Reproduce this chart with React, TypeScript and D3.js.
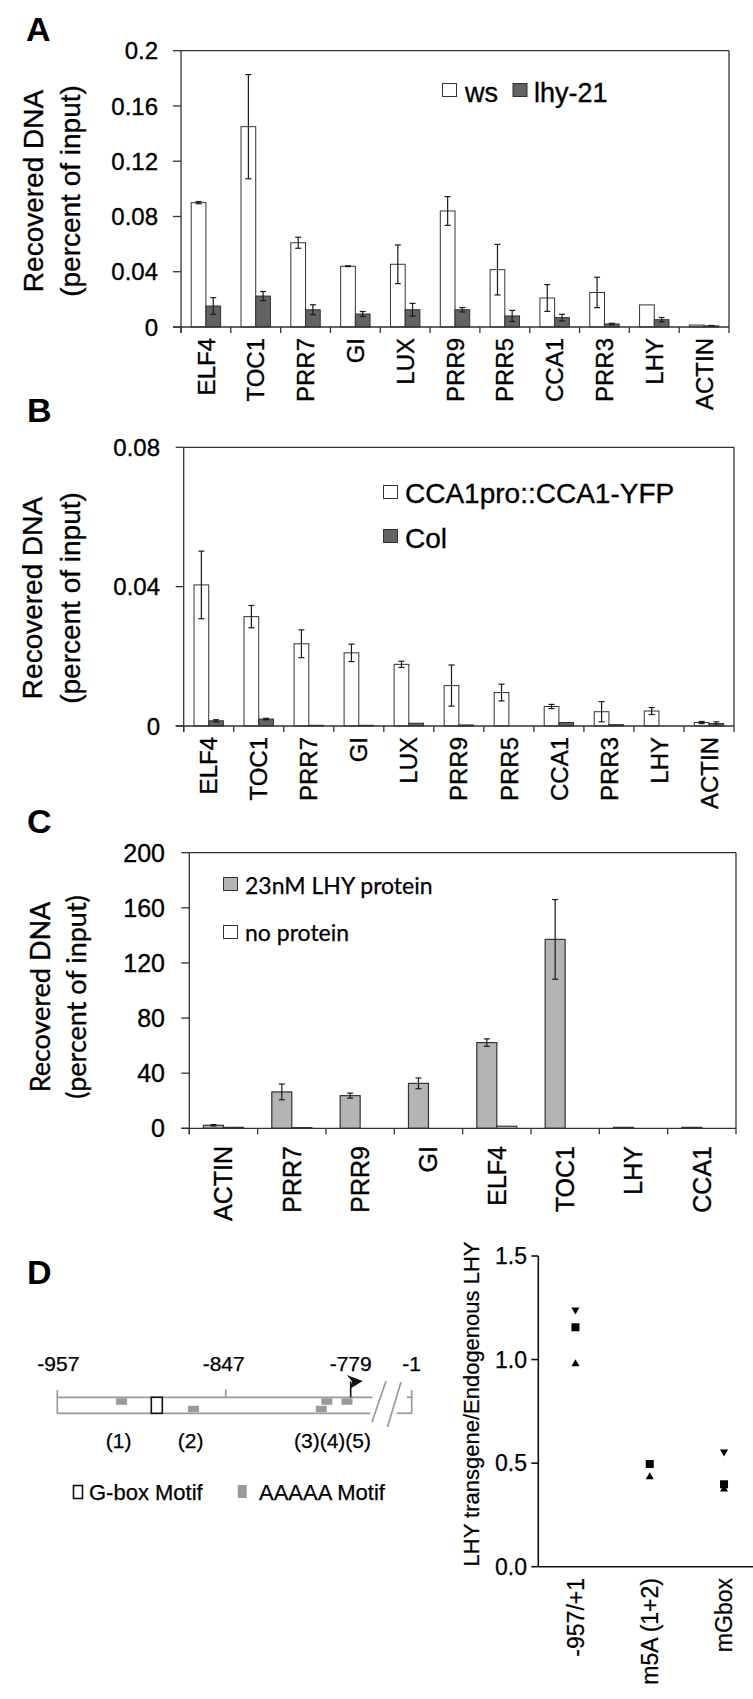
import React from "react";
import * as d3 from "d3";

const ARIAL = '"Liberation Sans", Arial, Helvetica, sans-serif';
const CAL = 'Lato, "Open Sans", sans-serif';
const TXT = "#000";
const TS = 0.35; // slight stroke to match heavier reference text

// ---------- Panel A data ----------
const catsA = ["ELF4", "TOC1", "PRR7", "GI", "LUX", "PRR9", "PRR5", "CCA1", "PRR3", "LHY", "ACTIN"];
const wsVals = [0.09, 0.145, 0.061, 0.044, 0.0454, 0.084, 0.0415, 0.021, 0.025, 0.016, 0.0014];
const wsErr = [0.0008, 0.0377, 0.004, 0.0003, 0.014, 0.0104, 0.0183, 0.0097, 0.011, 0, 0];
const lhyVals = [0.0152, 0.0224, 0.0125, 0.0094, 0.0125, 0.0125, 0.008, 0.0068, 0.0022, 0.0053, 0.0008];
const lhyErr = [0.006, 0.0033, 0.0036, 0.0018, 0.0046, 0.0016, 0.004, 0.0024, 0.0005, 0.0016, 0.0003];
const ticksA = [0, 0.04, 0.08, 0.12, 0.16, 0.2];
const tickLabelsA = ["0", "0.04", "0.08", "0.12", "0.16", "0.2"];

// ---------- Panel B data ----------
const catsB = ["ELF4", "TOC1", "PRR7", "GI", "LUX", "PRR9", "PRR5", "CCA1", "PRR3", "LHY", "ACTIN"];
const ccaVals = [0.0405, 0.0314, 0.0236, 0.021, 0.0177, 0.0116, 0.0096, 0.0056, 0.0041, 0.0043, 0.001];
const ccaErr = [0.0097, 0.0032, 0.004, 0.0025, 0.0009, 0.0059, 0.0024, 0.0006, 0.0029, 0.001, 0.0003];
const colVals = [0.0015, 0.002, 0.0002, 0.0002, 0.0008, 0.0003, 0, 0.001, 0.0004, 0, 0.0007];
const colErr = [0.0003, 0.0002, 0, 0, 0, 0, 0, 0, 0, 0, 0.0005];
const ticksB = [0, 0.04, 0.08];
const tickLabelsB = ["0", "0.04", "0.08"];

// ---------- Panel C data ----------
const catsC = ["ACTIN", "PRR7", "PRR9", "GI", "ELF4", "TOC1", "LHY", "CCA1"];
const protVals = [2.2, 26.4, 23.7, 32.6, 62.2, 137.1, 0.7, 0.7];
const protErr = [0.5, 5.7, 1.8, 3.9, 2.7, 28.9, 0, 0];
const noProtVals = [0.7, 0.5, 0, 0, 1.5, 0, 0, 0];
const noProtErr = [0, 0, 0, 0, 0, 0, 0, 0];
const ticksC = [0, 40, 80, 120, 160, 200];
const tickLabelsC = ["0", "40", "80", "120", "160", "200"];

// ---------- Panel D data ----------
const promoterMarks = [-957, -847, -779, -1];
const promoterLabels = ["-957", "-847", "-779", "-1"];
const aMotifPos = [-915, -868, -795, -792, -781];
const aMotifStrand = ["top", "bottom", "bottom", "top", "top"];
const aMotifNames = ["(1)", "(2)", "(3)(4)(5)"];
const aMotifNamePos = [-915, -868, -790];
const gboxPos = [-892];
const dCats = ["-957/+1", "m5A (1+2)", "mGbox"];
const dDown = [1.24, null, 0.555];
const dSquare = [1.156, 0.496, 0.398];
const dUp = [0.979, 0.433, 0.374];
const ticksD = [0, 0.5, 1.0, 1.5];
const tickLabelsD = ["0.0", "0.5", "1.0", "1.5"];

type Series = { values: number[]; errors: number[]; fill: string };

function BarPanel(p: {
  cats: string[];
  series: Series[];
  x0: number; x1: number; yTop: number; y0: number;
  max: number; ticks: number[]; tickLabels: string[];
  tickFont: number; tickLabelX: number; tickLen: number;
  catLabelY: number; catFont: number; barW: number;
  stroke: string; barStroke: number;
}) {
  const x = d3.scaleBand().domain(p.cats).range([p.x0, p.x1]).padding(0);
  const y = d3.scaleLinear().domain([0, p.max]).range([p.y0, p.yTop]);
  const ns = p.series.length;
  const axisC = "#333";
  const catTick = 6;
  return (
    <g>
      <line x1={p.x0} x2={p.x1} y1={p.yTop} y2={p.yTop} stroke={axisC} strokeWidth={1.3} />
      <line x1={p.x1} x2={p.x1} y1={p.yTop} y2={p.y0 + catTick} stroke={axisC} strokeWidth={1.3} />
      {p.cats.map((c, ci) => {
        const cx = (x(c) as number) + x.bandwidth() / 2;
        return p.series.map((s, si) => {
          const v = s.values[ci];
          if (!(v > 0)) return null;
          const bx = cx - (ns * p.barW) / 2 + si * p.barW;
          return (
            <rect key={c + si} x={bx} y={y(v)} width={p.barW} height={p.y0 - y(v)}
              fill={s.fill} stroke={p.stroke} strokeWidth={p.barStroke} />
          );
        });
      })}
      {p.cats.map((c, ci) => {
        const cx = (x(c) as number) + x.bandwidth() / 2;
        return p.series.map((s, si) => {
          const v = s.values[ci];
          const e = s.errors[ci];
          if (!(e > 0)) return null;
          const ex = cx - (ns * p.barW) / 2 + si * p.barW + p.barW / 2;
          const ya = y(v + e), yb = y(Math.max(0, v - e));
          return (
            <g key={"e" + c + si} stroke="#1a1a1a" strokeWidth={1.2}>
              <line x1={ex} x2={ex} y1={ya} y2={yb} />
              <line x1={ex - 3} x2={ex + 3} y1={ya} y2={ya} />
              <line x1={ex - 3} x2={ex + 3} y1={yb} y2={yb} />
            </g>
          );
        });
      })}
      <line x1={p.x0} x2={p.x0} y1={p.yTop} y2={p.y0 + catTick} stroke={axisC} strokeWidth={1.3} />
      <line x1={p.x0 - p.tickLen} x2={p.x1} y1={p.y0} y2={p.y0} stroke={axisC} strokeWidth={1.3} />
      {p.ticks.map((t, i) => (
        <g key={"t" + i}>
          <line x1={p.x0 - p.tickLen} x2={p.x0} y1={y(t)} y2={y(t)} stroke={axisC} strokeWidth={1.3} />
          <text x={p.tickLabelX} y={y(t)} dy="0.36em" textAnchor="end" fontSize={p.tickFont}
            fontFamily={ARIAL} fill={TXT} stroke={TXT} strokeWidth={TS}>{p.tickLabels[i]}</text>
        </g>
      ))}
      {p.cats.map((c) => (
        <line key={"ct" + c} x1={x(c) as number} x2={x(c) as number} y1={p.y0} y2={p.y0 + catTick}
          stroke={axisC} strokeWidth={1.3} />
      ))}
      {p.cats.map((c) => {
        const cx = (x(c) as number) + x.bandwidth() / 2;
        return (
          <text key={"cl" + c} transform={`translate(${cx},${p.catLabelY}) rotate(-90)`}
            dy="0.36em" textAnchor="end" fontSize={p.catFont} fontFamily={ARIAL}
            fill={TXT} stroke={TXT} strokeWidth={TS}>{c}</text>
        );
      })}
    </g>
  );
}

function YTitle(p: { x1: number; x2: number; cy: number; size: number; family: string }) {
  return (
    <g fontSize={p.size} fontFamily={p.family} fill={TXT} stroke={TXT} strokeWidth={TS} textAnchor="middle">
      <text transform={`translate(${p.x1},${p.cy}) rotate(-90)`}>Recovered DNA</text>
      <text transform={`translate(${p.x2},${p.cy}) rotate(-90)`}>(percent of input)</text>
    </g>
  );
}

function PanelLetter(p: { x: number; y: number; t: string }) {
  return (
    <text x={p.x} y={p.y} fontSize={34} fontWeight="bold" fontFamily={ARIAL} fill="#000">{p.t}</text>
  );
}

function PromoterDiagram() {
  const px = d3.scaleLinear().domain([-957, -847, -779, -1]).range([57.3, 225.7, 350.7, 411.7]);
  const topY = 1397.3, botY = 1413.3;
  const lineEnd = 372.5;
  const gray = "#9a9a9a";
  const mw = 11, mh = 6.5;
  return (
    <g>
      {promoterMarks.map((m, i) => (
        <text key={"pm" + i} x={px(m) + (i === 1 ? -2 : i === 0 ? 1 : 0)} y={1371} textAnchor="middle"
          fontSize={21} fontFamily={ARIAL} fill={TXT} stroke={TXT} strokeWidth={0.25}>{promoterLabels[i]}</text>
      ))}
      <g stroke={gray} strokeWidth={1.7} fill="none">
        <line x1={px(-957)} x2={lineEnd} y1={topY} y2={topY} />
        <line x1={px(-957)} x2={lineEnd - 2} y1={botY} y2={botY} />
        <line x1={px(-957)} x2={px(-957)} y1={1390} y2={botY} />
        <line x1={px(-847)} x2={px(-847)} y1={1389.3} y2={topY} />
        <line x1={372} y1={1422} x2={386} y2={1381} />
        <line x1={387.5} y1={1427} x2={401} y2={1382} />
        <line x1={px(-1)} x2={px(-1)} y1={1390} y2={botY} />
        <line x1={px(-1) - 5} x2={px(-1)} y1={topY} y2={topY} />
        <line x1={px(-1) - 15} x2={px(-1)} y1={botY} y2={botY} />
      </g>
      {aMotifPos.map((m, i) => (
        <rect key={"am" + i} x={px(m) - mw / 2}
          y={aMotifStrand[i] === "top" ? topY + 1 : botY - 1 - mh}
          width={mw} height={mh} fill={gray} />
      ))}
      {gboxPos.map((g, i) => (
        <rect key={"gb" + i} x={px(g) - 5.5} y={topY} width={11} height={botY - topY}
          fill="#fff" stroke="#111" strokeWidth={1.6} />
      ))}
      <line x1={px(-779)} x2={px(-779)} y1={topY} y2={1381.5} stroke="#111" strokeWidth={1.6} />
      <path d={`M${px(-779) - 4},${1375} L${px(-779) + 12},${1381} L${px(-779) - 1},${1389} L${px(-779) + 1.5},${1381.5} Z`}
        fill="#111" />
      {aMotifNames.map((n, i) => (
        <text key={"an" + i} x={px(aMotifNamePos[i]) + (i === 2 ? 2 : -3)} y={1448} textAnchor="middle"
          fontSize={21} fontFamily={ARIAL} fill={TXT} stroke={TXT} strokeWidth={0.25}>{n}</text>
      ))}
      <rect x={73.5} y={1485.5} width={9} height={13} fill="#fff" stroke="#111" strokeWidth={1.6} />
      <text x={89} y={1500} fontSize={22} fontFamily={ARIAL} fill={TXT} stroke={TXT} strokeWidth={0.25}>G-box Motif</text>
      <rect x={237.7} y={1485} width={9} height={13} fill={gray} />
      <text x={259} y={1500} fontSize={22} fontFamily={ARIAL} fill={TXT} stroke={TXT} strokeWidth={0.25}>AAAAA Motif</text>
    </g>
  );
}

function ScatterD() {
  const x0 = 538.3, yTop = 1256, y0 = 1566.7;
  const x = d3.scalePoint().domain(dCats).range([x0, x0 + 3 * 74.3]).padding(0.5);
  const y = d3.scaleLinear().domain([0, 1.5]).range([y0, yTop]);
  const tri = d3.symbol(d3.symbolTriangle, 28)() as string;
  const sq = d3.symbol(d3.symbolSquare, 64)() as string;
  return (
    <g>
      <line x1={x0} x2={x0} y1={yTop} y2={y0} stroke="#111" strokeWidth={1.6} />
      <line x1={x0} x2={753} y1={y0} y2={y0} stroke="#111" strokeWidth={1.6} />
      {ticksD.map((t, i) => (
        <g key={"dt" + i}>
          <line x1={x0 - 7} x2={x0} y1={y(t)} y2={y(t)} stroke="#111" strokeWidth={1.6} />
          <text x={527} y={y(t)} dy="0.36em" textAnchor="end" fontSize={23} fontFamily={ARIAL}
            fill={TXT} stroke={TXT} strokeWidth={0.25}>{tickLabelsD[i]}</text>
        </g>
      ))}
      <text transform={`translate(479,1404) rotate(-90)`} textAnchor="middle" fontSize={22}
        fontFamily={ARIAL} fill={TXT} stroke={TXT} strokeWidth={0.25}>LHY transgene/Endogenous LHY</text>
      {dCats.map((c, i) => (
        <g key={"dc" + i}>
          {dDown[i] != null && (
            <path d={tri} transform={`translate(${x(c)},${y(dDown[i] as number)}) rotate(180)`} fill="#000" />
          )}
          <path d={sq} transform={`translate(${x(c)},${y(dSquare[i])})`} fill="#000" />
          <path d={tri} transform={`translate(${x(c)},${y(dUp[i])})`} fill="#000" />
          <text transform={`translate(${x(c)},1578) rotate(-90)`} dy="0.36em" textAnchor="end"
            fontSize={23} fontFamily={ARIAL} fill={TXT} stroke={TXT} strokeWidth={0.25}>{c}</text>
        </g>
      ))}
    </g>
  );
}

export default function App() {
  return (
    <svg width={753} height={1699} viewBox="0 0 753 1699"
      style={{ position: "absolute", left: 0, top: 0, background: "#fff" }}>
      <rect x={0} y={0} width={753} height={1699} fill="#fff" />
      {/* Panel A */}
      <PanelLetter x={26} y={41} t="A" />
      <YTitle x1={43} x2={80} cy={191} size={28} family={ARIAL} />
      <BarPanel cats={catsA}
        series={[{ values: wsVals, errors: wsErr, fill: "#fff" }, { values: lhyVals, errors: lhyErr, fill: "#636363" }]}
        x0={181} x1={729} yTop={50.7} y0={327} max={0.2} ticks={ticksA} tickLabels={tickLabelsA}
        tickFont={24} tickLabelX={158} tickLen={8} catLabelY={338} catFont={24} barW={14.7}
        stroke="#333" barStroke={1} />
      <rect x={442.5} y={83.5} width={14} height={13} fill="#fff" stroke="#333" strokeWidth={1} />
      <text x={465} y={102} fontSize={27} fontFamily={ARIAL} fill={TXT} stroke={TXT} strokeWidth={TS}>ws</text>
      <rect x={513} y={83.5} width={14} height={13} fill="#636363" stroke="#333" strokeWidth={1} />
      <text x={534} y={102} fontSize={27} fontFamily={ARIAL} fill={TXT} stroke={TXT} strokeWidth={TS}>lhy-21</text>

      {/* Panel B */}
      <PanelLetter x={27} y={422} t="B" />
      <YTitle x1={42} x2={80} cy={598} size={28} family={ARIAL} />
      <BarPanel cats={catsB}
        series={[{ values: ccaVals, errors: ccaErr, fill: "#fff" }, { values: colVals, errors: colErr, fill: "#636363" }]}
        x0={183.7} x1={734} yTop={447.3} y0={726} max={0.08} ticks={ticksB} tickLabels={tickLabelsB}
        tickFont={24} tickLabelX={160} tickLen={8} catLabelY={737} catFont={24} barW={14.7}
        stroke="#333" barStroke={1} />
      <rect x={383.5} y={485.5} width={14} height={13} fill="#fff" stroke="#333" strokeWidth={1} />
      <text x={405} y={503} fontSize={28} fontFamily={ARIAL} fill={TXT} stroke={TXT} strokeWidth={TS}>CCA1pro::CCA1-YFP</text>
      <rect x={383.5} y={529.5} width={14} height={13} fill="#636363" stroke="#333" strokeWidth={1} />
      <text x={405} y={548} fontSize={28} fontFamily={ARIAL} fill={TXT} stroke={TXT} strokeWidth={TS}>Col</text>

      {/* Panel C */}
      <PanelLetter x={27} y={833} t="C" />
      <YTitle x1={50} x2={86} cy={997} size={27} family={CAL} />
      <BarPanel cats={catsC}
        series={[{ values: protVals, errors: protErr, fill: "#b4b4b4" }, { values: noProtVals, errors: noProtErr, fill: "#fff" }]}
        x0={189.3} x1={736} yTop={852.7} y0={1128.3} max={200} ticks={ticksC} tickLabels={tickLabelsC}
        tickFont={25} tickLabelX={165} tickLen={8} catLabelY={1146} catFont={25} barW={20}
        stroke="#333" barStroke={1.2} />
      <rect x={223.5} y={877.5} width={14} height={13} fill="#b4b4b4" stroke="#333" strokeWidth={1} />
      <text x={245} y={894} fontSize={23} fontFamily={CAL} fill={TXT} stroke={TXT} strokeWidth={0.25}>23nM LHY protein</text>
      <rect x={223.5} y={925.5} width={14} height={13} fill="#fff" stroke="#333" strokeWidth={1} />
      <text x={245} y={941} fontSize={23} fontFamily={CAL} fill={TXT} stroke={TXT} strokeWidth={0.25}>no protein</text>

      {/* Panel D */}
      <PanelLetter x={27} y={1284} t="D" />
      <PromoterDiagram />
      <ScatterD />
    </svg>
  );
}
